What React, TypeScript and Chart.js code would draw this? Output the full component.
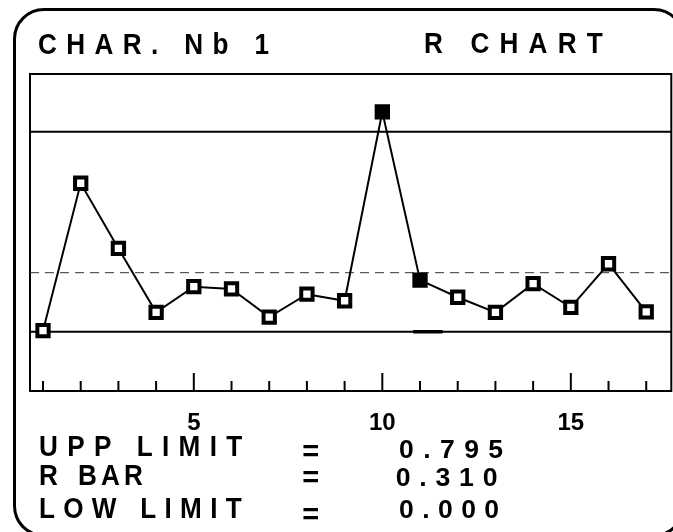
import React, { useEffect, useRef } from 'react';
import { Chart, registerables } from 'chart.js';

Chart.register(...registerables);

// ---- data ----
const samples = [1, 2, 3, 4, 5, 6, 7, 8, 9, 10, 11, 12, 13, 14, 15, 16, 17];
const ranges = [0.004, 0.59, 0.331, 0.077, 0.179, 0.17, 0.058, 0.149, 0.123, 0.874, 0.205, 0.137, 0.077, 0.191, 0.097, 0.27, 0.079];
const flaggedSamples = [10, 11];
const upperLimit = 0.795;
const centerLine = 0.2345;
const lowerLimit = 0;
const flagSegment = [10.82, 11.6];
const xTicks = [1, 2, 3, 4, 5, 6, 7, 8, 9, 10, 11, 12, 13, 14, 15, 16, 17];
const labeledTicks = [5, 10, 15];
const xBounds = [0.655, 17.665];
const yBounds = [-0.2357, 1.0242];

const titleLeft = 'CHAR. Nb 1';
const titleRight = 'R CHART';
const limitNames = ['UPP LIMIT', 'R BAR', 'LOW LIMIT'];
const limitValues = ['0.795', '0.310', '0.000'];

const FONT = "'Liberation Sans', Arial, Helvetica, sans-serif";

let measureCtx: CanvasRenderingContext2D | null = null;
function measure(text: string, size: number) {
  if (!measureCtx) measureCtx = document.createElement('canvas').getContext('2d');
  const c = measureCtx as CanvasRenderingContext2D;
  c.font = `bold ${size}px ${FONT}`;
  return c.measureText(text);
}

type LabelProps = { text: string; x: number; y: number; w?: number; h?: number; size?: number; k?: number; ws?: number };

function Label({ text, x, y, w, h, size, k = 1, ws = 0 }: LabelProps) {
  let S = size ?? 29;
  let m = measure(text, S);
  if (h) {
    const ih = m.actualBoundingBoxAscent + m.actualBoundingBoxDescent;
    S = (S * h) / ih;
    m = measure(text, S);
  }
  const chars = Array.from(text);
  const n = chars.length;
  const spaces = chars.filter((c) => c === ' ').length;
  const inkW = m.actualBoundingBoxLeft + m.actualBoundingBoxRight;
  const ls = w && n > 1 ? (w / k - inkW - ws * spaces) / (n - 1) : 0;
  const fA = m.fontBoundingBoxAscent;
  const fD = m.fontBoundingBoxDescent;
  const baseline = (S - (fA + fD)) / 2 + fA;
  const left = x + k * m.actualBoundingBoxLeft;
  const top = y - (baseline - m.actualBoundingBoxAscent);
  return (
    <div
      style={{
        position: 'absolute',
        left,
        top,
        margin: 0,
        fontFamily: FONT,
        fontWeight: 'bold',
        fontSize: `${S}px`,
        lineHeight: `${S}px`,
        letterSpacing: `${ls}px`,
        wordSpacing: `${ws}px`,
        whiteSpace: 'pre',
        color: '#000',
        transform: `scaleX(${k})`,
        transformOrigin: '0 0',
      }}
    >
      {text}
    </div>
  );
}

const frameAndTicks = {
  id: 'frameAndTicks',
  beforeDatasetsDraw(chart: any) {
    const { ctx, chartArea } = chart;
    const xs = chart.scales.x;
    ctx.save();
    ctx.strokeStyle = '#000';
    ctx.lineWidth = 2;
    ctx.strokeRect(chartArea.left, chartArea.top, chartArea.right - chartArea.left, chartArea.bottom - chartArea.top);
    ctx.beginPath();
    for (const v of xTicks) {
      const px = xs.getPixelForValue(v);
      const len = labeledTicks.includes(v) ? 18 : 10;
      ctx.moveTo(px, chartArea.bottom);
      ctx.lineTo(px, chartArea.bottom - len);
    }
    ctx.stroke();
    ctx.restore();
  },
};

function ControlChart() {
  const ref = useRef<HTMLCanvasElement | null>(null);
  useEffect(() => {
    if (!ref.current) return;
    const hLine = (y: number) => [
      { x: xBounds[0], y },
      { x: xBounds[1], y },
    ];
    const chart = new Chart(ref.current, {
      type: 'line',
      data: {
        datasets: [
          {
            label: 'R',
            data: samples.map((s, i) => ({ x: s, y: ranges[i] })),
            borderColor: '#000',
            borderWidth: 2,
            pointStyle: 'rect',
            pointRadius: 8,
            pointBorderWidth: 4,
            pointBorderColor: '#000',
            pointBackgroundColor: samples.map((s) => (flaggedSamples.includes(s) ? '#000' : '#fff')),
            tension: 0,
          },
          {
            label: 'UPP LIMIT',
            data: hLine(upperLimit),
            borderColor: '#000',
            borderWidth: 2,
            pointRadius: 0,
          },
          {
            label: 'R BAR',
            data: hLine(centerLine),
            borderColor: '#333',
            borderWidth: 1,
            borderDash: [9, 6],
            pointRadius: 0,
          },
          {
            label: 'LOW LIMIT',
            data: hLine(lowerLimit),
            borderColor: '#000',
            borderWidth: 2,
            pointRadius: 0,
          },
          {
            label: 'flag',
            data: flagSegment.map((x) => ({ x, y: lowerLimit })),
            borderColor: '#000',
            borderWidth: 3.5,
            pointRadius: 0,
          },
        ],
      },
      options: {
        animation: false,
        responsive: false,
        devicePixelRatio: 1,
        layout: { autoPadding: false, padding: { left: 30, right: 1.7, top: 74, bottom: 94.2 } },
        plugins: { legend: { display: false }, tooltip: { enabled: false } },
        scales: {
          x: {
            type: 'linear',
            min: xBounds[0],
            max: xBounds[1],
            afterBuildTicks: (s: any) => {
              s.ticks = xTicks.map((v) => ({ value: v }));
            },
            grid: { display: false, drawTicks: true, tickLength: 18 },
            border: { display: false },
            ticks: {
              autoSkip: false,
              maxRotation: 0,
              padding: 0,
              color: '#000',
              font: { family: FONT, weight: 'bold', size: 24 },
              callback: (v: any) => (labeledTicks.includes(Number(v)) ? String(v) : ''),
            },
          },
          y: { display: false, min: yBounds[0], max: yBounds[1] },
        },
      },
      plugins: [frameAndTicks],
    } as any);
    return () => chart.destroy();
  }, []);
  return (
    <canvas
      ref={ref}
      width={673}
      height={532}
      style={{ position: 'absolute', left: 0, top: 0, width: 673, height: 532, display: 'block' }}
    />
  );
}

export default function App() {
  return (
    <div
      style={{
        position: 'fixed',
        left: 0,
        top: 0,
        width: 673,
        height: 532,
        overflow: 'hidden',
        background: '#fff',
      }}
    >
      <ControlChart />
      <div
        style={{
          position: 'absolute',
          left: 12.5,
          top: 8,
          width: 672,
          height: 529,
          boxSizing: 'border-box',
          border: '3px solid #000',
          borderRadius: 31,
        }}
      />
      <Label text={titleLeft} x={38.5} y={32.5} w={230} size={29} k={0.9} />
      <Label text={titleRight} x={424.5} y={33} w={178} size={29} k={0.9} />
      <Label text={limitNames[0]} x={40} y={436.7} w={203} size={29} k={0.9} />
      <Label text={limitNames[1]} x={40} y={465.7} w={103} size={29} k={0.9} ws={5} />
      <Label text={limitNames[2]} x={40} y={498.3} w={202} size={29} k={0.9} />
      <Label text="=" x={303.3} y={445} size={29} />
      <Label text="=" x={303.3} y={471.7} size={29} />
      <Label text="=" x={303.3} y={508} size={29} />
      <Label text={limitValues[0]} x={400} y={440} w={103.3} h={18.3} />
      <Label text={limitValues[1]} x={396.7} y={468.3} w={100} h={18.4} />
      <Label text={limitValues[2]} x={400} y={500} w={98.3} h={18.3} />
    </div>
  );
}
